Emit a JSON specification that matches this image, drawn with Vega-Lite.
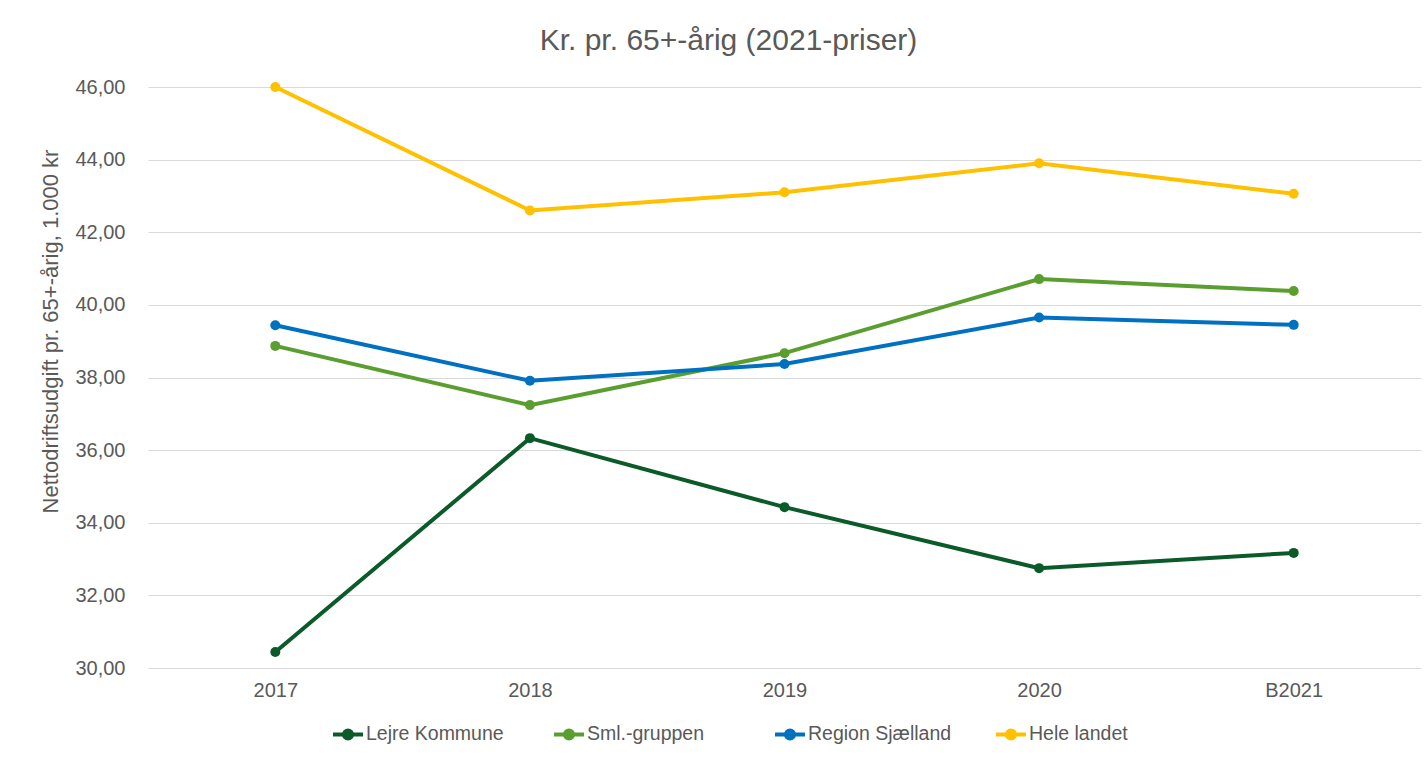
{
  "$schema": "https://vega.github.io/schema/vega-lite/v6.json",
  "width": 1273,
  "height": 581,
  "autosize": "none",
  "padding": {"left": 148, "top": 87, "right": 6, "bottom": 94},
  "background": "white",
  "title": {
    "text": "Kr. pr. 65+-årig (2021-priser)",
    "font": "Liberation Sans",
    "fontSize": 30,
    "fontWeight": "normal",
    "color": "#595959",
    "offset": 21,
    "dx": -56
  },
  "data": {
    "values": [
      {"year": "2017", "series": "Lejre Kommune", "value": 30.44},
      {"year": "2018", "series": "Lejre Kommune", "value": 36.33},
      {"year": "2019", "series": "Lejre Kommune", "value": 34.43},
      {"year": "2020", "series": "Lejre Kommune", "value": 32.75},
      {"year": "B2021", "series": "Lejre Kommune", "value": 33.17},
      {"year": "2017", "series": "Sml.-gruppen", "value": 38.87},
      {"year": "2018", "series": "Sml.-gruppen", "value": 37.24},
      {"year": "2019", "series": "Sml.-gruppen", "value": 38.67},
      {"year": "2020", "series": "Sml.-gruppen", "value": 40.71},
      {"year": "B2021", "series": "Sml.-gruppen", "value": 40.38},
      {"year": "2017", "series": "Region Sjælland", "value": 39.44},
      {"year": "2018", "series": "Region Sjælland", "value": 37.91},
      {"year": "2019", "series": "Region Sjælland", "value": 38.37},
      {"year": "2020", "series": "Region Sjælland", "value": 39.65},
      {"year": "B2021", "series": "Region Sjælland", "value": 39.45},
      {"year": "2017", "series": "Hele landet", "value": 46.0},
      {"year": "2018", "series": "Hele landet", "value": 42.6},
      {"year": "2019", "series": "Hele landet", "value": 43.1},
      {"year": "2020", "series": "Hele landet", "value": 43.9},
      {"year": "B2021", "series": "Hele landet", "value": 43.06}
    ]
  },
  "encoding": {
    "x": {
      "field": "year",
      "type": "ordinal",
      "scale": {"type": "point", "padding": 0.5},
      "axis": {
        "title": null,
        "labelAngle": 0,
        "domain": false,
        "ticks": false,
        "grid": false,
        "labelPadding": 12,
        "labelFont": "Liberation Sans",
        "labelFontSize": 20,
        "labelColor": "#595959"
      }
    },
    "y": {
      "field": "value",
      "type": "quantitative",
      "scale": {"domain": [30, 46], "nice": false, "zero": false},
      "axis": {
        "values": [30, 32, 34, 36, 38, 40, 42, 44, 46],
        "labelExpr": "replace(format(datum.value, '.2f'), '.', ',')",
        "domain": false,
        "ticks": false,
        "grid": true,
        "gridColor": "#D9D9D9",
        "gridWidth": 1,
        "labelPadding": 23,
        "labelFont": "Liberation Sans",
        "labelFontSize": 20,
        "labelColor": "#595959",
        "title": "Nettodriftsudgift pr. 65+-årig, 1.000 kr",
        "titleFont": "Liberation Sans",
        "titleFontSize": 22,
        "titleFontWeight": "normal",
        "titleColor": "#595959",
        "titleAngle": -90,
        "titleAlign": "center",
        "titleBaseline": "middle",
        "titleX": -98,
        "titleY": 244
      }
    },
    "color": {
      "field": "series",
      "type": "nominal",
      "scale": {
        "domain": ["Lejre Kommune", "Sml.-gruppen", "Region Sjælland", "Hele landet"],
        "range": ["#0B5B2A", "#5A9E2F", "#0070C0", "#FFC000"]
      },
      "legend": {
        "title": null,
        "orient": "none",
        "direction": "horizontal",
        "legendX": 183,
        "legendY": 630,
        "gridAlign": "all",
        "symbolType": "M-1,0H1M-0.27,0a0.27,0.27 0 1,0 0.54,0a0.27,0.27 0 1,0 -0.54,0",
        "symbolSize": 900,
        "symbolStrokeWidth": 4,
        "labelFont": "Liberation Sans",
        "labelFontSize": 19.5,
        "labelColor": "#595959",
        "labelOffset": 1,
        "columnPadding": 36
      }
    }
  },
  "layer": [
    {"mark": {"type": "line", "strokeWidth": 4}},
    {"mark": {"type": "point", "filled": true, "size": 100, "opacity": 1}}
  ],
  "config": {
    "view": {"stroke": null}
  }
}
